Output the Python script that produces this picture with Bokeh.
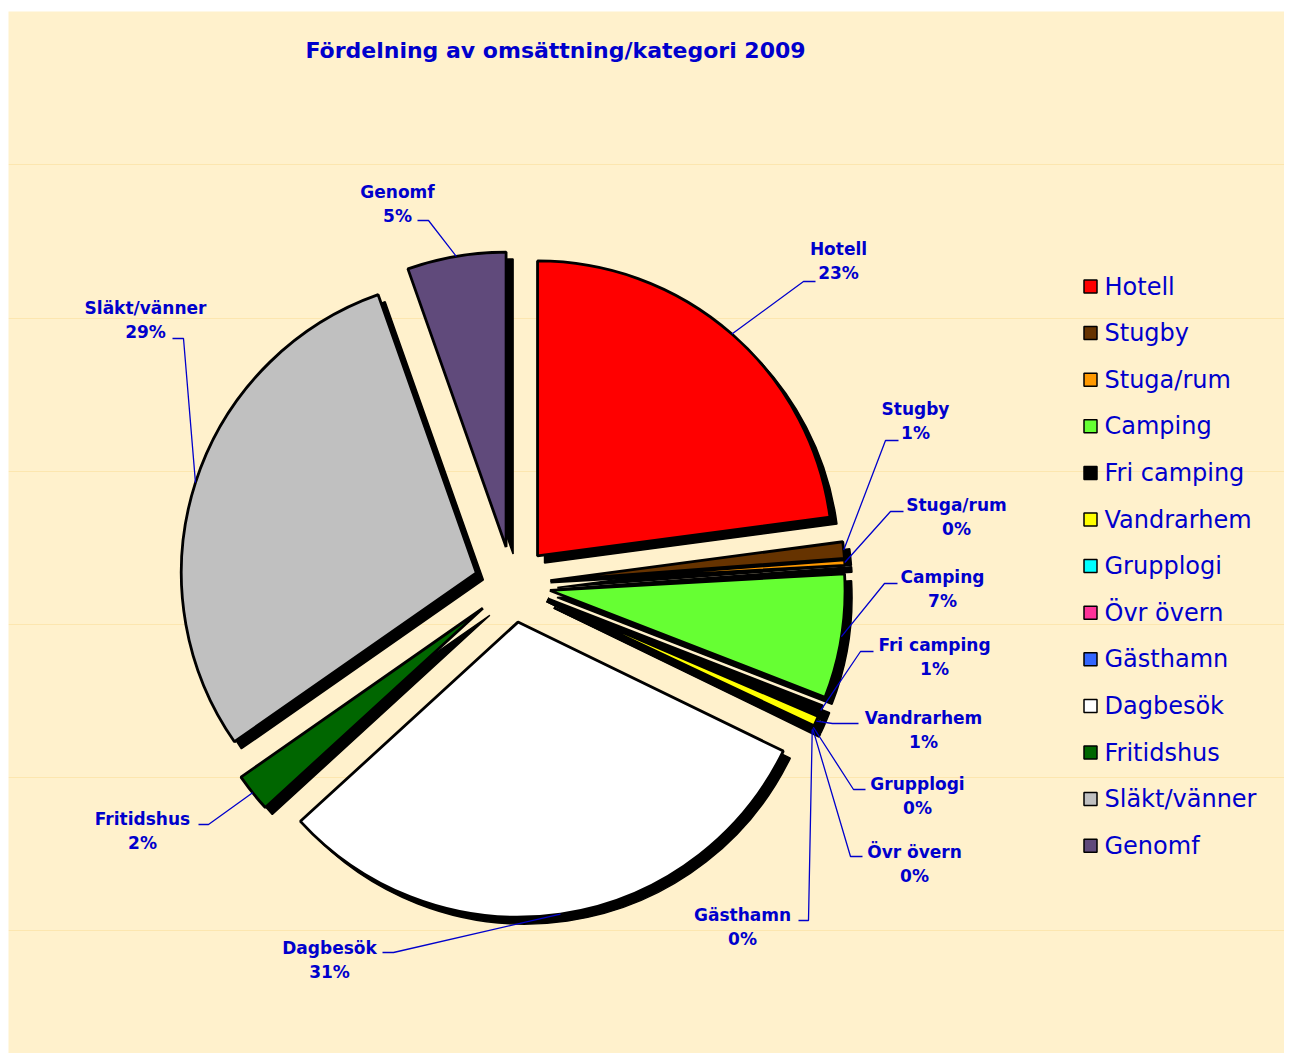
import numpy as np
from bokeh.plotting import figure
from bokeh.models import Range1d, ColumnDataSource
from bokeh.core.properties import value
from bokeh.embed import file_html
from bokeh.resources import INLINE

# ---------------- data ----------------
categories = ["Hotell", "Stugby", "Stuga/rum", "Camping", "Fri camping", "Vandrarhem",
              "Grupplogi", "Övr övern", "Gästhamn", "Dagbesök", "Fritidshus",
              "Släkt/vänner", "Genomf"]
shares = [22.9, 0.9, 0.3, 6.8, 0.55, 0.55, 0.1, 0.05, 0.05, 31.0, 2.1, 29.3, 5.4]
colors = ["#FF0000", "#663300", "#FF9900", "#66FF33", "#000000", "#FFFF00",
          "#00FFFF", "#FF3399", "#3366FF", "#FFFFFF", "#006600", "#C0C0C0", "#604A7B"]
title_text = "Fördelning av omsättning/kategori 2009"

# ---------------- layout (screen pixels) ----------------
label_x = [838, 915, 956, 942, 934, 923, 917, 914, 742, 329, 142, 145, 397]
label_y = [248, 408, 504, 576, 644, 717, 783, 851, 914, 947, 818, 307, 191]
knee = [(803, 281), (885, 440), (890, 511), (884, 583), (860, 651), (832, 723),
        (853, 789), (850, 856), (808, 920), (393, 952), (208, 824), (183, 338), (428, 220)]
end = [(815, 281), (898, 440), (903, 511), (897, 583), (873, 651), (858, 723),
       (865, 789), (862, 856), (798, 920), (382, 952), (198, 824), (172, 338), (417, 220)]

BLUE = "#0000CC"
CX, CY = 512, 584       # pie centre (screen)
EXPLODE = 38
R = 295
SH = 7                  # shadow offset

W, H = 1284, 1053
p = figure(width=W, height=H, output_backend="svg", toolbar_location=None,
           x_axis_type=None, y_axis_type=None,
           x_range=Range1d(8, 1284), y_range=Range1d(-1053, -11),
           min_border_left=8, min_border_right=0, min_border_top=11, min_border_bottom=0)
p.background_fill_color = "#FFF1CC"
p.border_fill_color = "white"
p.outline_line_color = None
p.grid.visible = False

# faint texture seams
for sy in [164, 318, 471, 624, 777, 930]:
    p.line([8, 1284], [-sy, -sy], line_color="#FBE3A8", line_width=1, line_alpha=0.8)

vals = np.array(shares, dtype=float)
frac = vals / vals.sum()
cum = np.concatenate([[0], np.cumsum(frac)]) * 360.0
ts, te = cum[:-1], cum[1:]
tm = (ts + te) / 2
tmr = np.radians(tm)
ax = CX + EXPLODE * np.sin(tmr)
ay = -(CY) + EXPLODE * np.cos(tmr)
start = np.radians(90 - te)
stop = np.radians(90 - ts)

src = ColumnDataSource(dict(x=ax, y=ay, xs=ax + SH, ys=ay - SH, start=start, stop=stop,
                            color=colors))
p.wedge(x="xs", y="ys", radius=R, start_angle="start", end_angle="stop",
        fill_color="black", line_color="black", line_width=1.5, source=src)
p.wedge(x="x", y="y", radius=R, start_angle="start", end_angle="stop",
        fill_color="color", line_color="black", line_width=2.8, source=src)

# leader lines
arc_x = ax + R * np.sin(tmr)
arc_y = ay + R * np.cos(tmr)
xs_l, ys_l = [], []
for i in range(len(categories)):
    xs_l.append([arc_x[i], knee[i][0], end[i][0]])
    ys_l.append([arc_y[i], -knee[i][1], -end[i][1]])
p.multi_line(xs_l, ys_l, line_color=BLUE, line_width=1.3)

# data labels
pct = [f"{int(np.floor(f * 100 + 0.5))}%" for f in frac]
p.text(x=label_x, y=[-y for y in label_y], text=categories, text_align="center",
       text_baseline="middle", text_color=BLUE, text_font=value("DejaVu Sans"),
       text_font_style="bold", text_font_size="17px")
p.text(x=label_x, y=[-(y + 24) for y in label_y], text=pct, text_align="center",
       text_baseline="middle", text_color=BLUE, text_font=value("DejaVu Sans"),
       text_font_style="bold", text_font_size="17px")

# title
p.text(x=[555], y=[-50], text=[title_text], text_align="center", text_baseline="middle",
       text_color=BLUE, text_font=value("DejaVu Sans"), text_font_style="bold",
       text_font_size="22px")

# legend
n = len(categories)
ly = [-(286 + 46.6 * i) for i in range(n)]
p.rect(x=[1090] * n, y=ly, width=13, height=13, fill_color=colors, line_color="black",
       line_width=1.5)
p.text(x=[1104] * n, y=ly, text=categories, text_align="left", text_baseline="middle",
       text_color=BLUE, text_font=value("DejaVu Sans"), text_font_size="24px")

open("out.html", "w").write(file_html(p, INLINE))
